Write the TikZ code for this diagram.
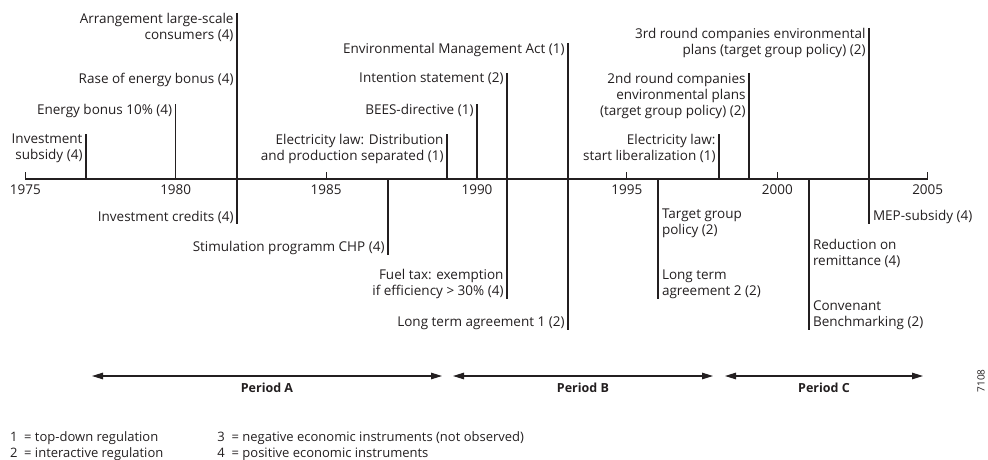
\documentclass[tikz,border=0pt]{standalone}
\usepackage{fontspec}
\setmainfont{Open Sans}
\usetikzlibrary{arrows.meta}

\definecolor{ink}{HTML}{231F20}

\begin{document}
\begin{tikzpicture}[x=1pt,y=-1pt,
  every node/.style={inner sep=0pt, outer sep=0pt, text=ink},
  evtext/.style={font=\fontsize{13.5}{16}\selectfont},
  leftlbl/.style={evtext, align=right},
  rightlbl/.style={evtext, align=left},
  yearlbl/.style={evtext, anchor=center},
  rulestroke/.style={line width=1.1pt, draw=ink},
  periodarrow/.style={line width=1.2pt, draw=ink,
    {Triangle[length=11pt,width=6.5pt]}-{Triangle[length=11pt,width=6.5pt]}},
  periodlbl/.style={font=\fontsize{12.5}{14}\selectfont\bfseries},
  legend/.style={font=\fontsize{13}{16}\selectfont}]

\useasboundingbox (0,0) rectangle (988,460);

% ---- time axis -------------------------------------------------------
\coordinate (axL) at (25.3,179);
\coordinate (axR) at (928,179);
\draw[rulestroke] (axL) -- (axR);
\foreach \yr/\xx in {1975/25.3,1980/175.7,1985/326.1,1990/477,1995/626.9,2000/777.3,2005/927.7}{
  \coordinate (t\yr) at (\xx,179);
  \coordinate (tt\yr) at (\xx,172);
  \draw[rulestroke] (t\yr) -- (tt\yr);
  \node[yearlbl] (y\yr) at (\xx,189.5) {\yr};
}

% ---- event markers (top end / bottom end) ----------------------------
\foreach \n/\xx/\ya/\yb in {
  e77/86/134/179, e80/175.7/104/179, e82/237/13/224, e87/388/179/255,
  e89/447/134/179, e90/477/104/179, e91/507/73/299, e93/568/43/330,
  e96/658/179/299, e98/719/134/179, e99/749/73/179, e01/809/179/330,
  e03/869/28/224}{
  \coordinate (\n a) at (\xx,\ya);
  \coordinate (\n b) at (\xx,\yb);
  \draw[rulestroke] (\n a) -- (\n b);
}

% ---- labels above the axis -------------------------------------------
\node[leftlbl, anchor=north east] (l77) at ([xshift=-3.5pt]e77a) {Investment\\subsidy (4)};
\node[leftlbl, anchor=north east] (l80) at ([xshift=-3.5pt]e80a) {Energy bonus 10\% (4)};
\node[leftlbl, anchor=north east] (l82a) at ([xshift=-3.5pt]e82a) {Arrangement large-scale\\consumers (4)};
\node[leftlbl, anchor=north east] (l82b) at ([xshift=-3.5pt,yshift=-60pt]e82a) {Rase of energy bonus (4)};
\node[leftlbl, anchor=north east] (l89) at ([xshift=-3.5pt]e89a) {Electricity law: Distribution\\and production separated (1)};
\node[leftlbl, anchor=north east] (l90) at ([xshift=-3.5pt]e90a) {BEES-directive (1)};
\node[leftlbl, anchor=north east] (l91) at ([xshift=-3.5pt]e91a) {Intention statement (2)};
\node[leftlbl, anchor=north east] (l93) at ([xshift=-3.5pt]e93a) {Environmental Management Act (1)};
\node[leftlbl, anchor=north east] (l98) at ([xshift=-3.5pt]e98a) {Electricity law:\\start liberalization (1)};
\node[leftlbl, anchor=north east] (l99) at ([xshift=-3.5pt]e99a) {2nd round companies\\environmental plans\\(target group policy) (2)};
\node[leftlbl, anchor=north east] (l03) at ([xshift=-3.5pt]e03a) {3rd round companies environmental\\plans (target group policy) (2)};

% ---- labels below the axis -------------------------------------------
\node[leftlbl, anchor=south east] (b82) at ([xshift=-3.5pt]e82b) {Investment credits (4)};
\node[leftlbl, anchor=south east] (b87) at ([xshift=-3.5pt]e87b) {Stimulation programm CHP (4)};
\node[leftlbl, anchor=south east] (b91) at ([xshift=-3.5pt]e91b) {Fuel tax: exemption\\if efficiency > 30\% (4)};
\node[leftlbl, anchor=south east] (b93) at ([xshift=-3.5pt]e93b) {Long term agreement 1 (2)};
\node[rightlbl, anchor=north west] (b96a) at (662,209) {Target group\\policy (2)};
\node[rightlbl, anchor=south west] (b96b) at ([xshift=4pt]e96b) {Long term\\agreement 2 (2)};
\node[rightlbl, anchor=north west] (b01a) at (813,239) {Reduction on\\remittance (4)};
\node[rightlbl, anchor=south west] (b01b) at ([xshift=4pt]e01b) {Convenant\\Benchmarking (2)};
\node[rightlbl, anchor=south west] (b03) at ([xshift=4pt]e03b) {MEP-subsidy (4)};

% ---- periods -----------------------------------------------------------
\coordinate (pA1) at (92,376);  \coordinate (pA2) at (442,376);
\coordinate (pB1) at (453,376); \coordinate (pB2) at (713,376);
\coordinate (pC1) at (725,376); \coordinate (pC2) at (923,376);
\draw[periodarrow] (pA1) -- (pA2);
\draw[periodarrow] (pB1) -- (pB2);
\draw[periodarrow] (pC1) -- (pC2);
\node[periodlbl] (perA) at (267,388) {Period A};
\node[periodlbl] (perB) at (583,388) {Period B};
\node[periodlbl] (perC) at (824,388) {Period C};

\node[font=\fontsize{10}{11}\selectfont, rotate=90] (fig) at (981,381) {7108};

% ---- legend ------------------------------------------------------------
\node[legend, anchor=east] (k3) at (524,438) {3\ \ = negative economic instruments (not observed)};
\node[legend, anchor=west] (k4) at (k3.west |- 0,454) {4\ \ = positive economic instruments};
\node[legend, anchor=west] (k1) at (10,438) {1\ \ = top-down regulation};
\node[legend, anchor=west] (k2) at (10,454) {2\ \ = interactive regulation};
\end{tikzpicture}
\end{document}
